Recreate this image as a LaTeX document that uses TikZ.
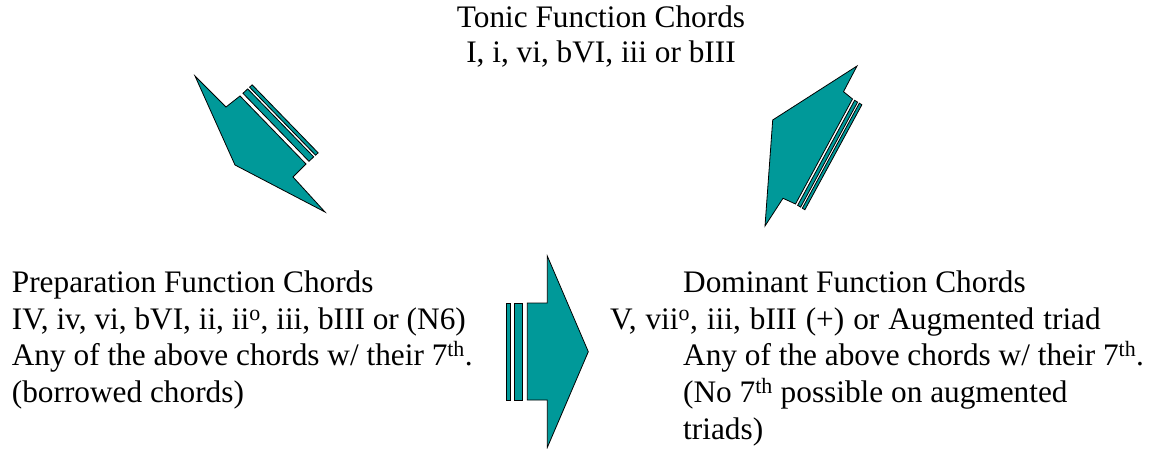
\documentclass[tikz,border=0pt]{standalone}
\usepackage{fontspec}
\setmainfont{Liberation Serif}
\definecolor{arrowteal}{RGB}{0,153,153}
\begin{document}
\begin{tikzpicture}[x=1pt,y=-1pt,
  txt/.style={inner sep=0pt, anchor=base west, font=\fontsize{31.3}{37}\selectfont},
  ctxt/.style={txt, anchor=base},
  arr/.style={fill=arrowteal, draw=black, line width=0.8pt, line join=miter}]
\useasboundingbox (0,0) rectangle (1161,449);

% Texts
\node[ctxt] (t1) at (601,28) {Tonic Function Chords};
\node[ctxt] (t2) at (601,63) {I, i, vi, bVI, iii or bIII};
\node[txt] (p1) at (11.7,292.5) {Preparation Function Chords};
\node[txt] (p2) at (11.7,329.2) {IV, iv, vi, bVI, ii, ii\textsuperscript{o}, iii, bIII or (N6)};
\node[txt] (p3) at (11.7,365.9) {Any of the above chords w/ their 7\textsuperscript{th}.};
\node[txt] (p4) at (11.7,402.6) {(borrowed chords)};
\node[txt] (d1) at (683,292.5) {Dominant Function Chords};
\node[txt] (d2) at (610,329.2) {\spaceskip=9pt V, vii\textsuperscript{o}, iii, bIII (+) or Augmented triad};
\node[txt] (d3) at (683,365.9) {Any of the above chords w/ their 7\textsuperscript{th}.};
\node[txt] (d4) at (683,402.6) {(No 7\textsuperscript{th} possible on augmented};
\node[txt] (d5) at (683,439.3) {triads)};

% Left striped arrow (Tonic -> Preparation)
\draw[arr] (195,76) -- (226,107) -- (240,96) -- (306,164) -- (293,177) -- (325,212) -- (235,165) -- cycle;
\draw[arr] (242.94,93.29) -- (247.72,88.89) -- (313.72,156.89) -- (308.94,161.29) -- cycle;
\draw[arr] (249.56,87.2) -- (252.14,84.83) -- (318.14,152.83) -- (315.56,155.2) -- cycle;

% Right striped arrow (Dominant -> Tonic)
\draw[arr] (857,66) -- (843.5,91.7) -- (852.5,99) -- (795.5,204) -- (783,198.3) -- (765,226) -- (772.7,120) -- cycle;
\draw[arr] (854.63,100.31) -- (857.61,102.14) -- (800.61,207.14) -- (797.63,205.31) -- cycle;
\draw[arr] (859.32,103.18) -- (861.87,104.75) -- (804.87,209.75) -- (802.32,208.18) -- cycle;

% Bottom striped arrow (Preparation -> Dominant)
\draw[arr] (506,303) rectangle (510.7,400);
\draw[arr] (514.3,303) rectangle (522.7,400);
\draw[arr] (527.3,303) -- (547.3,303) -- (547.3,256) -- (588.3,351.7) -- (547.3,447.5) -- (547.3,400) -- (527.3,400) -- cycle;
\end{tikzpicture}
\end{document}
